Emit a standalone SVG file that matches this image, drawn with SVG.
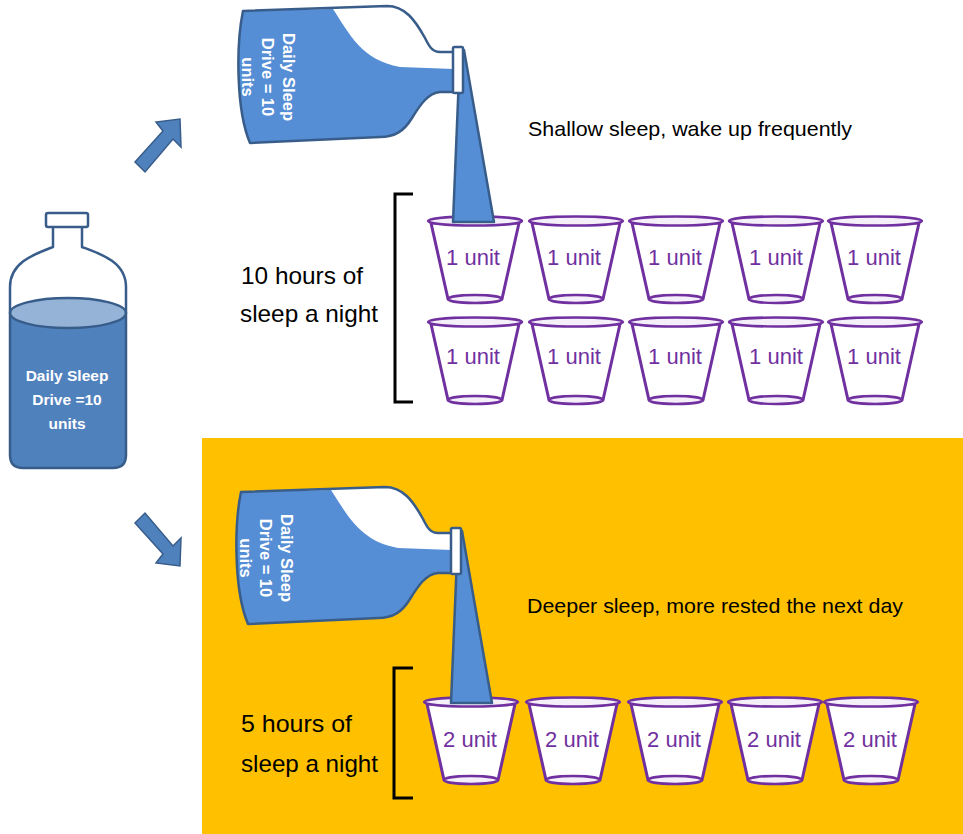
<svg xmlns="http://www.w3.org/2000/svg" width="963" height="834" viewBox="0 0 963 834">
  <style>
    .lbl { font-family: "Liberation Sans", Arial, sans-serif; fill: #000; }
    .cuptxt { font-family: "Liberation Sans", Arial, sans-serif; font-size: 22px; fill: #7030a0; text-anchor: middle; }
    .btxt { font-family: "Liberation Sans", Arial, sans-serif; font-weight: bold; fill: #fff; text-anchor: middle; white-space: pre; }
    .cupline { fill: #fff; stroke: #7030a0; stroke-width: 3; stroke-linejoin: round; }
    .rim { fill: #f4eff9; stroke: #7030a0; stroke-width: 2.5; }
    .blueline { stroke: #385d8a; stroke-width: 2.5; stroke-linejoin: round; }
    .bracket { fill: none; stroke: #000; stroke-width: 3; }
    .arrow { fill: #4f81bd; stroke: #385d8a; stroke-width: 1.5; stroke-linejoin: miter; }
  </style>
  <defs>
    <!-- plastic cup, rim centred at the origin -->
    <g id="cup">
      <path class="cupline" d="M-44,2 L-27,78 L27,78 L44,2 Z"/>
      <ellipse class="rim" cx="0" cy="78" rx="27" ry="4"/>
      <ellipse class="rim" cx="0" cy="0" rx="47" ry="4.5"/>
    </g>
    <!-- tipped bottle pouring a stream -->
    <g id="pourBottle">
      <path d="M243,11 L387,6 C405,6 415,20 425,38 C429,46 432,52 440,52 L454,52 L454,92 L440,92 C428,93 420,105 412,118 C404,131 395,137 380,137 L250,143 C236,110 236,45 243,11 Z" fill="#fff"/>
      <path d="M243,11 L333,9 C350,35 362,60 400,67 L454,69 L454,92 L440,92 C428,93 420,105 412,118 C404,131 395,137 380,137 L250,143 C236,110 236,45 243,11 Z" fill="#558ed5"/>
      <path class="blueline" fill="none" d="M454,92 L440,92 C428,93 420,105 412,118 C404,131 395,137 380,137 L250,143 C236,110 236,45 243,11 L387,6 C405,6 415,20 425,38 C429,46 432,52 440,52 L454,52"/>
      <polygon class="blueline" fill="#558ed5" points="460,52 464,50 494,222 453,222"/>
      <rect class="blueline" x="453" y="47" width="10" height="46" rx="1.5" fill="#fff"/>
      <g transform="translate(268,77) rotate(90)" class="btxt" font-size="16.5">
        <text x="0" y="-14.5">Daily Sleep</text>
        <text x="0" y="6">Drive  = 10</text>
        <text x="0" y="26.5">units</text>
      </g>
    </g>
  </defs>

  <!-- highlighted lower panel -->
  <rect id="panel" x="202" y="438" width="761" height="396" fill="#ffc000"/>

  <!-- full bottle -->
  <g id="bottle">
    <path d="M53,227 L53,247 C35,254 10,262 10,287 L10,455 Q10,468 23,468 L113,468 Q126,468 126,455 L126,287 C126,262 101,254 82,247 L82,227 Z" fill="#fff"/>
    <path d="M10,313 L10,455 Q10,468 23,468 L113,468 Q126,468 126,455 L126,313 Z" fill="#4f81bd"/>
    <ellipse cx="68" cy="313" rx="58" ry="15" fill="#95b3d7" stroke="#385d8a" stroke-width="2.5"/>
    <path class="blueline" fill="none" d="M53,227 L53,247 C35,254 10,262 10,287 L10,455 Q10,468 23,468 L113,468 Q126,468 126,455 L126,287 C126,262 101,254 82,247 L82,227"/>
    <rect class="blueline" x="46" y="213" width="42" height="14" rx="2" fill="#fff"/>
    <g class="btxt" font-size="15.5">
      <text x="67" y="381">Daily Sleep</text>
      <text x="67" y="405">Drive  =10</text>
      <text x="67" y="429">units</text>
    </g>
  </g>

  <!-- connectors -->
  <g id="connectors">
    <polygon class="arrow" points="135,162 163,131 156,122 180,119 181,147 173,139 145,172"/>
    <polygon class="arrow" points="135,523 163,554 156,563 180,566 181,538 173,546 145,513"/>
  </g>

  <!-- 10 hours scenario -->
  <g id="cups10">
    <use href="#cup" x="475" y="221"/>
    <use href="#cup" x="576" y="221"/>
    <use href="#cup" x="676" y="221"/>
    <use href="#cup" x="776" y="221"/>
    <use href="#cup" x="875" y="221"/>
    <use href="#cup" x="475" y="322"/>
    <use href="#cup" x="576" y="322"/>
    <use href="#cup" x="676" y="322"/>
    <use href="#cup" x="776" y="322"/>
    <use href="#cup" x="875" y="322"/>
    <text class="cuptxt" x="473" y="265">1 unit</text>
    <text class="cuptxt" x="574" y="265">1 unit</text>
    <text class="cuptxt" x="675" y="265">1 unit</text>
    <text class="cuptxt" x="776" y="265">1 unit</text>
    <text class="cuptxt" x="874" y="265">1 unit</text>
    <text class="cuptxt" x="473" y="364">1 unit</text>
    <text class="cuptxt" x="574" y="364">1 unit</text>
    <text class="cuptxt" x="675" y="364">1 unit</text>
    <text class="cuptxt" x="776" y="364">1 unit</text>
    <text class="cuptxt" x="874" y="364">1 unit</text>
  </g>
  <g id="pour10">
    <use href="#pourBottle"/>
  </g>
  <g id="label10">
    <path class="bracket" d="M413,194 H395 V402 H413"/>
    <text class="lbl" font-size="24" x="241" y="284" textLength="122" lengthAdjust="spacingAndGlyphs">10 hours of</text>
    <text class="lbl" font-size="24" x="240" y="322" textLength="138" lengthAdjust="spacingAndGlyphs">sleep a night</text>
    <text class="lbl" font-size="21" x="528" y="136" textLength="324" lengthAdjust="spacingAndGlyphs">Shallow sleep, wake up frequently</text>
  </g>

  <!-- 5 hours scenario -->
  <g id="cups5">
    <use href="#cup" x="471" y="702"/>
    <use href="#cup" x="573" y="702"/>
    <use href="#cup" x="675" y="702"/>
    <use href="#cup" x="775" y="702"/>
    <use href="#cup" x="871" y="702"/>
    <text class="cuptxt" x="470" y="747">2 unit</text>
    <text class="cuptxt" x="572" y="747">2 unit</text>
    <text class="cuptxt" x="674" y="747">2 unit</text>
    <text class="cuptxt" x="774" y="747">2 unit</text>
    <text class="cuptxt" x="870" y="747">2 unit</text>
  </g>
  <g id="pour5">
    <use href="#pourBottle" transform="translate(-2,481)"/>
  </g>
  <g id="label5">
    <path class="bracket" d="M413,668 H394 V798 H413"/>
    <text class="lbl" font-size="24" x="241" y="732" textLength="111" lengthAdjust="spacingAndGlyphs">5 hours of</text>
    <text class="lbl" font-size="24" x="241" y="772" textLength="137" lengthAdjust="spacingAndGlyphs">sleep a night</text>
    <text class="lbl" font-size="21" x="527" y="613" textLength="376" lengthAdjust="spacingAndGlyphs">Deeper sleep, more rested the next day</text>
  </g>
</svg>
